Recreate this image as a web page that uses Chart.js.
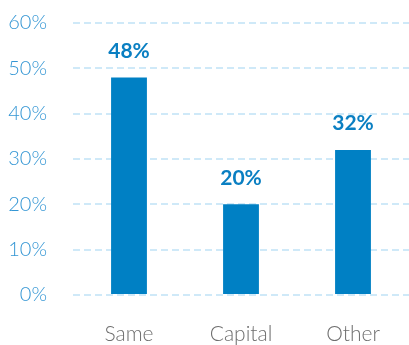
<!DOCTYPE html>
<html><head><meta charset="utf-8">
<script src="https://cdn.jsdelivr.net/npm/chart.js@4"></script>
<style>html,body{margin:0;padding:0;background:#fff;}#wrap{width:409px;height:345px;position:relative;}</style>
</head><body><div id="wrap"><canvas id="c"></canvas></div>
<script>
const categories = ["Same", "Capital", "Other"];
const values = [48, 20, 32];
const yTicks = [0, 10, 20, 30, 40, 50, 60];

const valueLabels = {
  id: 'valueLabels',
  afterDatasetsDraw(chart) {
    const ctx = chart.ctx;
    const meta = chart.getDatasetMeta(0);
    ctx.save();
    ctx.font = 'bold 21px Lato';
    ctx.fillStyle = '#0a7fc2';
    ctx.textAlign = 'center';
    ctx.textBaseline = 'bottom';
    meta.data.forEach((bar, i) => {
      ctx.fillText(values[i] + '%', bar.x, bar.y - 16);
    });
    ctx.restore();
  }
};

new Chart(document.getElementById('c'), {
  type: 'bar',
  data: {
    labels: categories,
    datasets: [{ data: values, backgroundColor: '#0080c4', barPercentage: 0.32, categoryPercentage: 1 }]
  },
  options: {
    responsive: true, maintainAspectRatio: false, animation: false,
    layout: { padding: { top: 0, left: 0, right: 0, bottom: 0 } },
    plugins: { legend: { display: false }, tooltip: { enabled: false } },
    scales: {
      x: {
        afterFit(axis) { axis.height = 50; },
        grid: { display: false, drawTicks: false }, border: { display: false },
        ticks: { color: '#6e6e6e', font: { family: 'Lato', size: 21, weight: 300 }, padding: 27 }
      },
      y: {
        min: 0, max: 60,
        afterBuildTicks(axis) { axis.ticks = yTicks.map(v => ({ value: v })); },
        afterFit(axis) { axis.width = 73; axis.paddingTop = 23; },
        grid: { color: '#cfe9f8', lineWidth: 2, drawTicks: false },
        border: { display: false, dash: [7, 4] },
        ticks: { color: '#3496d4', font: { family: 'Lato', size: 20, weight: 300 }, padding: 26, callback: v => v + '%' }
      }
    }
  },
  plugins: [valueLabels]
});
</script></body></html>
